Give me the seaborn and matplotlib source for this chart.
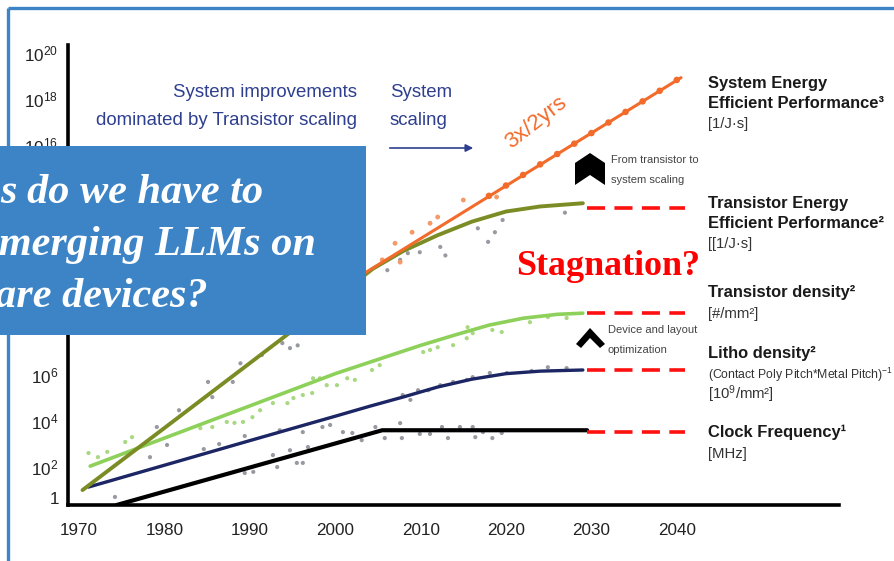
import numpy as np
import pandas as pd
import matplotlib
matplotlib.use("Agg")
import matplotlib.pyplot as plt
import seaborn as sns
from matplotlib.patches import Rectangle, Polygon, FancyArrowPatch
from matplotlib.lines import Line2D

# ---------------- data (values as log10 exponents) ----------------
sys_year = [2000.0, 2040.5]
sys_exp = [9.64, 18.93]
sys_mk_year = [2018, 2020, 2022, 2024, 2026, 2028, 2030, 2032, 2034, 2036, 2038, 2040]
sys_mk_exp = [13.79, 14.24, 14.70, 15.16, 15.61, 16.06, 16.52, 16.98, 17.44, 17.90, 18.36, 18.83]
sys_pt_year = [2005.5, 2007.0, 2007.6, 2009.0, 2011.1, 2012.0, 2015.0, 2018.9]
sys_pt_exp = [11.01, 11.73, 10.91, 12.21, 12.60, 12.87, 13.61, 13.74]

tee_year = [1970.4, 1980, 1990, 2000, 2004.4, 2008, 2012, 2016, 2020, 2024, 2029]
tee_exp = [1.00, 3.70, 6.52, 9.35, 10.62, 11.40, 12.08, 12.67, 13.11, 13.33, 13.47]

td_year = [1971.3, 1980, 1990, 2000, 2006, 2010, 2014, 2018, 2022, 2026, 2029]
td_exp = [2.04, 3.26, 4.66, 6.06, 6.80, 7.29, 7.74, 8.17, 8.47, 8.64, 8.69]

ld_year = [1971.1, 1980, 1990, 2000, 2004, 2008, 2012, 2016, 2020, 2024, 2029]
ld_exp = [1.13, 2.08, 3.15, 4.21, 4.64, 5.05, 5.48, 5.82, 6.06, 6.17, 6.22]

cf_year = [1974.4, 2005.5, 2029.5]
cf_exp = [0.35, 3.60, 3.60]

gray_year = [1974.2, 1978.3, 1979.1, 1980.3, 1981.7, 1985.1, 1985.6, 1988.0, 1988.9, 1991.4,
             1993.8, 1994.7, 1995.6, 2006.1, 2007.6, 2008.5, 2009.9, 2012.3, 2012.9, 2016.7,
             2017.9, 2018.7, 2019.6, 2026.9,
             1984.6, 1986.4, 1989.4, 1993.5, 1996.2, 1998.5, 1999.4, 2007.9, 2008.8, 2009.7,
             2010.9, 2012.3, 2013.8, 2015.4, 2016.1, 2018.1, 2020.1, 2023.0, 2024.9, 2027.1,
             1989.4, 1990.4, 1992.7, 1993.2, 1994.7, 1995.5, 1996.2, 1996.8, 2000.9, 2002.0,
             2003.1, 2004.7, 2005.8, 2007.6, 2007.8, 2009.9, 2011.1, 2012.5, 2013.2, 2014.6,
             2016.1, 2016.4, 2017.3, 2018.4, 2019.5]
gray_exp = [0.70, 2.43, 3.74, 2.96, 4.47, 5.70, 5.04, 5.70, 6.51, 6.87,
            7.39, 7.17, 7.29, 10.56, 11.01, 11.30, 11.34, 11.57, 11.20, 12.38,
            11.79, 12.21, 12.74, 13.06,
            2.78, 3.00, 3.35, 3.60, 3.52, 3.74, 3.83, 5.13, 4.92, 5.34,
            5.34, 5.56, 5.70, 5.79, 5.91, 6.09, 6.09, 6.18, 6.34, 6.30,
            1.74, 1.79, 2.52, 2.00, 2.73, 2.18, 2.18, 2.87, 3.52, 3.48,
            3.17, 3.74, 3.26, 3.91, 3.26, 3.44, 3.44, 3.74, 3.26, 3.74,
            3.74, 3.30, 3.52, 3.26, 3.48]

green_year = [1971.1, 1972.2, 1973.3, 1975.4, 1976.2, 1984.2, 1985.6, 1987.3, 1988.2, 1989.2,
              1990.3, 1991.2, 1992.7, 1994.4, 1995.1, 1996.2, 1997.3, 1997.4, 1998.2, 1999.0,
              2000.2, 2001.4, 2002.3, 2004.3, 2005.2, 2010.3, 2011.1, 2012.0, 2013.8, 2015.4,
              2015.5, 2016.1, 2018.4, 2019.5, 2022.8, 2024.9, 2027.1]
green_exp = [2.61, 2.43, 2.66, 3.09, 3.30, 3.69, 3.74, 3.96, 3.92, 3.96,
             4.17, 4.47, 4.78, 4.78, 5.00, 5.13, 5.22, 5.86, 5.86, 5.56,
             5.56, 5.86, 5.79, 6.22, 6.43, 7.00, 7.09, 7.21, 7.30, 7.60,
             8.08, 7.82, 7.96, 7.87, 8.30, 8.52, 8.48]

stag_year = [2029.5, 2041.0]
stag_exp = [13.26, 8.69, 6.22, 3.52]

x_ticks = [1970, 1980, 1990, 2000, 2010, 2020, 2030, 2040]
y_tick_exp = [2, 4, 6, 8, 10, 12, 14, 16, 18, 20]
y_hidden = [8, 10, 12, 14]   # labels covered by the overlay box

# ---------------- style ----------------
sns.set_theme(style="white")
SANS = ["Liberation Sans", "DejaVu Sans"]
plt.rcParams["font.family"] = SANS
plt.rcParams["mathtext.fontset"] = "custom"
plt.rcParams["mathtext.rm"] = "Liberation Sans"
plt.rcParams["mathtext.it"] = "Liberation Sans:italic"
plt.rcParams["mathtext.bf"] = "Liberation Sans:bold"

BLUE = "#3D84C6"
ORANGE = "#F26B2A"
OLIVE = "#7C8C25"
GREEN = "#8DD05A"
NAVY = "#1C2664"
TXTBLUE = "#2E3F8F"

W, H = 895, 561
fig = plt.figure(figsize=(W / 100, H / 100), dpi=100)
fig.patch.set_facecolor("white")
renderer = fig.canvas.get_renderer()


def fx(x):
    return x / W


def fy(y):
    return 1 - y / H


def fit_size(txt, width_px, start=12.0, **kw):
    """font size so that txt is width_px wide"""
    t = fig.text(0, 0, txt, fontsize=start, **kw)
    fs = start
    for _ in range(3):
        w = t.get_window_extent(renderer).width
        fs = fs * width_px / w
        t.set_fontsize(fs)
    t.remove()
    return fs


ax = fig.add_axes([fx(68), fy(505), (839 - 68) / W, (505 - 45) / H])
ax.set_facecolor("white")
ax.set_yscale("log")


def p(v):
    return 10.0 ** np.asarray(v, dtype=float)


# scatter
sns.scatterplot(x=gray_year, y=p(gray_exp), ax=ax, color="#858891", s=9, edgecolor="none",
                alpha=0.85, zorder=2, legend=False)
sns.scatterplot(x=green_year, y=p(green_exp), ax=ax, color="#a9d882", s=9, edgecolor="none",
                zorder=2, legend=False)
sns.scatterplot(x=sys_pt_year, y=p(sys_pt_exp), ax=ax, color="#f39a68", s=12, edgecolor="none",
                zorder=2, legend=False)

# lines
sns.lineplot(x=td_year, y=p(td_exp), ax=ax, color=GREEN, lw=2.6, zorder=3, estimator=None, sort=False)
sns.lineplot(x=ld_year, y=p(ld_exp), ax=ax, color=NAVY, lw=2.4, zorder=3, estimator=None, sort=False)
sns.lineplot(x=cf_year, y=p(cf_exp), ax=ax, color="black", lw=3.0, zorder=3, estimator=None, sort=False)
sns.lineplot(x=tee_year, y=p(tee_exp), ax=ax, color=OLIVE, lw=2.8, zorder=3, estimator=None, sort=False)
sns.lineplot(x=sys_year, y=p(sys_exp), ax=ax, color=ORANGE, lw=2.2, zorder=4, estimator=None, sort=False)
sns.scatterplot(x=sys_mk_year, y=p(sys_mk_exp), ax=ax, color=ORANGE, s=22, edgecolor="none",
                zorder=5, legend=False)

for e in stag_exp:
    sns.lineplot(x=stag_year, y=p([e, e]), ax=ax, color="#FF1010", lw=2.6, zorder=4,
                 estimator=None, sort=False).lines[-1].set_dashes([5, 2.6])

ax.set_xlim(1968.7, 2059.0)
ax.set_ylim(10 ** 0.35, 10 ** 20.35)
xfs = fit_size("1970", 38)
ax.set_xticks(x_ticks)
ax.set_xticklabels([str(t) for t in x_ticks], fontsize=xfs, color="#222222")
ax.set_yticks(p(y_tick_exp))
ax.set_yticklabels(["" if e in y_hidden else r"$\mathregular{10^{%d}}$" % e for e in y_tick_exp],
                   fontsize=xfs, color="#222222")
# the "1" label sits right at the bottom of the axis
ax.text(-0.011, 10 ** 0.57, "1", transform=ax.get_yaxis_transform(), ha="right", va="center",
        fontsize=xfs, color="#222222")
ax.minorticks_off()
ax.tick_params(axis="both", length=0)
ax.tick_params(axis="x", pad=13)
ax.tick_params(axis="y", pad=7)
for s in ["top", "right"]:
    ax.spines[s].set_visible(False)
for s in ["left", "bottom"]:
    ax.spines[s].set_color("black")
    ax.spines[s].set_linewidth(2.6)
ax.set_xlabel("")
ax.set_ylabel("")
ax.grid(False)

# ---------------- annotations ----------------
sfs = fit_size("dominated by Transistor scaling", 262)
fig.text(fx(357), fy(97), "System improvements", ha="right", va="baseline", fontsize=sfs, color=TXTBLUE)
fig.text(fx(357), fy(125), "dominated by Transistor scaling", ha="right", va="baseline", fontsize=sfs,
         color=TXTBLUE)
fig.text(fx(390), fy(97), "System", ha="left", va="baseline", fontsize=sfs, color=TXTBLUE)
fig.text(fx(390), fy(125), "scaling", ha="left", va="baseline", fontsize=sfs, color=TXTBLUE)
fig.add_artist(FancyArrowPatch((fx(387), fy(148)), (fx(476), fy(148)), transform=fig.transFigure,
                               arrowstyle="-|>", mutation_scale=11, color=TXTBLUE, lw=1.2))
ofs = fit_size("3x/2yrs", 72)
fig.text(fx(536), fy(123), "3x/2yrs", ha="center", va="center", rotation=38, fontsize=ofs, color=ORANGE)

nfs = fit_size("From transistor to", 88)
fig.text(fx(611), fy(163), "From transistor to", ha="left", va="baseline", fontsize=nfs, color="#444444")
fig.text(fx(611), fy(183), "system scaling", ha="left", va="baseline", fontsize=nfs, color="#444444")
fig.add_artist(Polygon([(fx(575), fy(163)), (fx(590), fy(153)), (fx(605), fy(163)), (fx(605), fy(185)),
                        (fx(590), fy(175)), (fx(575), fy(185))], closed=True, transform=fig.transFigure,
                       facecolor="black", edgecolor="none"))
fig.text(fx(608), fy(333), "Device and layout", ha="left", va="baseline", fontsize=nfs, color="#444444")
fig.text(fx(608), fy(353), "optimization", ha="left", va="baseline", fontsize=nfs, color="#444444")
fig.add_artist(Polygon([(fx(576), fy(344)), (fx(590), fy(328)), (fx(605), fy(344)), (fx(600), fy(348)),
                        (fx(590), fy(338)), (fx(581), fy(348))], closed=True, transform=fig.transFigure,
                       facecolor="black", edgecolor="none"))

SERIF = ["Liberation Serif", "DejaVu Serif"]
stfs = fit_size("Stagnation?", 184, family=SERIF, weight="bold")
fig.text(fx(516), fy(275), "Stagnation?", ha="left", va="baseline", fontsize=stfs, color="#FF0000",
         family=SERIF, weight="bold")

RX = 708
bfs = fit_size("Efficient Performance³", 176, weight="bold")
rfs = fit_size("[#/mm²]", 50)
cfs = fit_size(r"(Contact Poly Pitch*Metal Pitch)$\mathregular{^{-1}}$", 184)
right_labels = [
    (88, "System Energy", "bold", bfs),
    (108, "Efficient Performance³", "bold", bfs),
    (128, "[1/J·s]", "normal", rfs),
    (208, "Transistor Energy", "bold", bfs),
    (228, "Efficient Performance²", "bold", bfs),
    (248, "[[1/J·s]", "normal", rfs),
    (297, "Transistor density²", "bold", bfs),
    (318, "[#/mm²]", "normal", rfs),
    (358, "Litho density²", "bold", bfs),
    (379, r"(Contact Poly Pitch*Metal Pitch)$\mathregular{^{-1}}$", "normal", cfs),
    (399, r"[10$\mathregular{^{9}}$/mm²]", "normal", rfs),
    (437, "Clock Frequency¹", "bold", bfs),
    (458, "[MHz]", "normal", rfs),
]
for yy, txt, wt, fs in right_labels:
    fig.text(fx(RX), fy(yy), txt, ha="left", va="baseline", fontsize=fs, weight=wt,
             color="#1a1a1a" if wt == "bold" else "#333333")

# ---------------- slide frame and overlay box ----------------
fig.add_artist(Line2D([fx(8), fx(895)], [fy(8), fy(8)], transform=fig.transFigure, color=BLUE, lw=2.4,
                      solid_capstyle="butt"))
fig.add_artist(Line2D([fx(8), fx(8)], [fy(8), fy(561)], transform=fig.transFigure, color=BLUE, lw=2.4,
                      solid_capstyle="butt"))
fig.add_artist(Rectangle((0, fy(335)), fx(366), (335 - 146) / H, transform=fig.transFigure,
                         facecolor=BLUE, edgecolor="none", zorder=10))
bxfs = fit_size("s do we have to", 263, family=SERIF, style="italic", weight="bold")
for xr, yb, txt in [(263, 203, "s do we have to"), (316, 255, "emerging LLMs on"), (208, 307, "ware devices?")]:
    fig.text(fx(xr), fy(yb), txt, ha="right", va="baseline", fontsize=bxfs, color="white",
             family=SERIF, style="italic", weight="bold", zorder=11)

fig.savefig("out.png", dpi=100, facecolor="white")
